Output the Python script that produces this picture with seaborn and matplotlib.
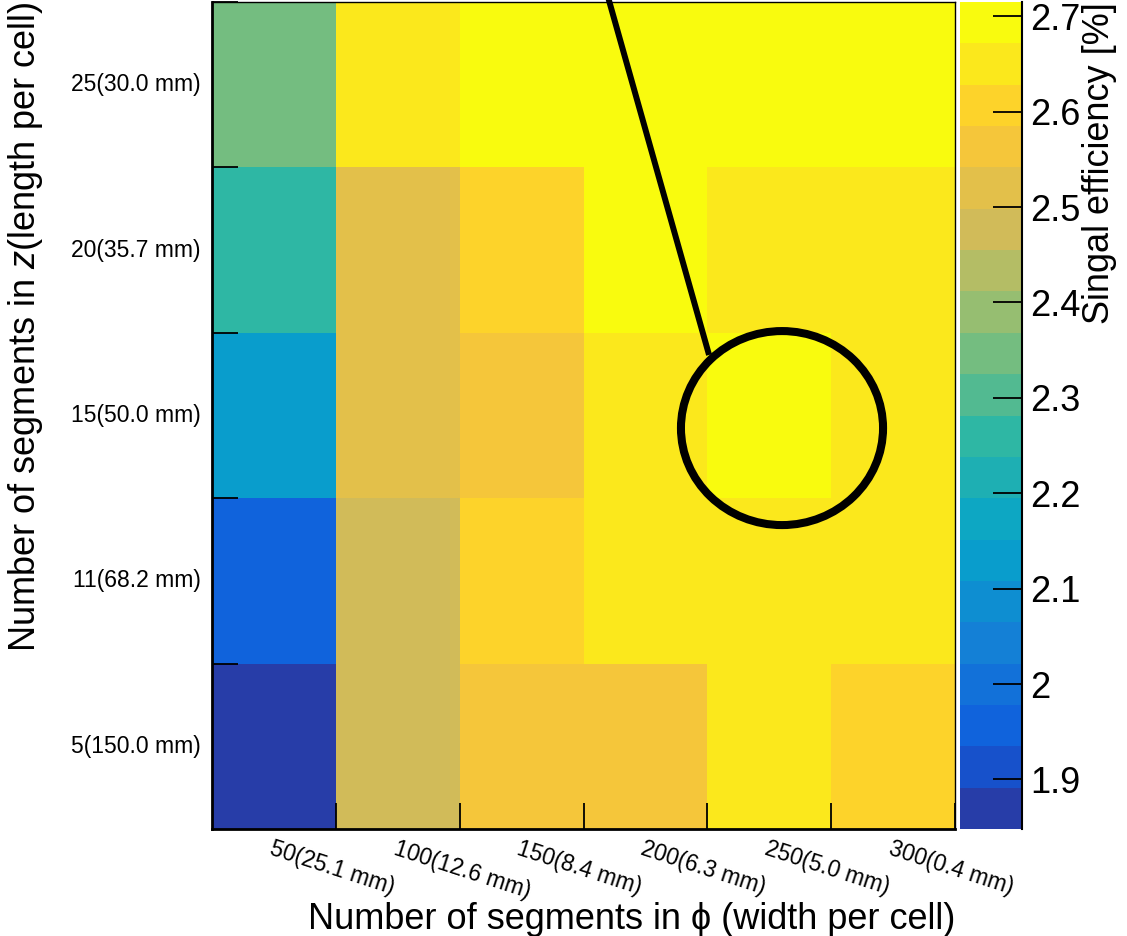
import numpy as np
import pandas as pd
import matplotlib
matplotlib.use("Agg")
import matplotlib.pyplot as plt
from matplotlib.colors import LinearSegmentedColormap, ListedColormap, BoundaryNorm
from matplotlib.patches import Ellipse
from matplotlib.ticker import FormatStrFormatter
import seaborn as sns

# ---------------- data ----------------
phi_labels = ["50(25.1 mm)", "100(12.6 mm)", "150(8.4 mm)",
              "200(6.3 mm)", "250(5.0 mm)", "300(0.4 mm)"]
z_labels = ["25(30.0 mm)", "20(35.7 mm)", "15(50.0 mm)",
            "11(68.2 mm)", "5(150.0 mm)"]

eff_z25 = [2.346, 2.650, 2.693, 2.700, 2.705, 2.698]
eff_z20 = [2.260, 2.520, 2.606, 2.690, 2.650, 2.648]
eff_z15 = [2.130, 2.515, 2.565, 2.652, 2.712, 2.655]
eff_z11 = [1.957, 2.476, 2.606, 2.646, 2.652, 2.649]
eff_z5 = [1.850, 2.478, 2.563, 2.560, 2.655, 2.608]

cbar_ticks = [1.9, 2.0, 2.1, 2.2, 2.3, 2.4, 2.5, 2.6, 2.7]
z_min, z_max = 1.848, 2.715
n_contours = 20

# ---------------- style ----------------
sns.set_style("white")
plt.rcParams['font.family'] = ['Liberation Sans', 'DejaVu Sans']
plt.rcParams['mathtext.fontset'] = 'custom'
plt.rcParams['mathtext.it'] = 'Liberation Sans:italic'
plt.rcParams['mathtext.rm'] = 'Liberation Sans'
plt.rcParams['text.color'] = 'black'
plt.rcParams['axes.labelcolor'] = 'black'
plt.rcParams['xtick.color'] = 'black'
plt.rcParams['ytick.color'] = 'black'
plt.rcParams['axes.axisbelow'] = False

# ROOT kBird palette
stops = [0.0, 0.125, 0.25, 0.375, 0.5, 0.625, 0.75, 0.875, 1.0]
red = [0.2082, 0.0592, 0.0780, 0.0232, 0.1802, 0.5301, 0.8186, 0.9956, 0.9764]
green = [0.1664, 0.3599, 0.5041, 0.6419, 0.7178, 0.7492, 0.7328, 0.7862, 0.9832]
blue = [0.5293, 0.8684, 0.8385, 0.7914, 0.6425, 0.4662, 0.3499, 0.1968, 0.0539]
bird = LinearSegmentedColormap.from_list(
    "bird", list(zip(stops, zip(red, green, blue))), N=255)
band_colors = [bird(int((i + 0.99) * 255 / n_contours)) for i in range(n_contours)]
cmap = ListedColormap(band_colors)
levels = np.linspace(z_min, z_max, n_contours + 1)
norm = BoundaryNorm(levels, n_contours)

df = pd.DataFrame([eff_z25, eff_z20, eff_z15, eff_z11, eff_z5],
                  index=z_labels, columns=phi_labels)

W, H = 1127, 936
fig = plt.figure(figsize=(W / 100, H / 100), dpi=100)
ax_l, ax_r, ax_t, ax_b = 212, 955, 2, 829
ax = fig.add_axes([ax_l / W, 1 - ax_b / H, (ax_r - ax_l) / W, (ax_b - ax_t) / H])
cax = fig.add_axes([960 / W, 1 - ax_b / H, 62 / W, (ax_b - ax_t) / H])

sns.heatmap(df, ax=ax, cbar_ax=cax, cmap=cmap, norm=norm,
            linewidths=0, antialiased=False,
            cbar_kws={"ticks": cbar_ticks})
ax.set_axisbelow(False)
cax.set_axisbelow(False)

# frame
for name, sp in ax.spines.items():
    sp.set_visible(True)
    sp.set_color("black")
    sp.set_linewidth(2.0 if name in ("left", "bottom") else 1.0)
    sp.set_zorder(6)

# tick labels at bin centres, tick marks at bin edges
ax.set_xticklabels(phi_labels, rotation=-18, ha="left", va="top",
                   rotation_mode="anchor", fontsize=16.5, color="black")
ax.set_yticklabels(z_labels, rotation=0, fontsize=16.5, color="black")
ax.tick_params(which="major", length=0)
ax.tick_params(axis="x", which="major", pad=6)
ax.tick_params(axis="y", which="major", pad=8)
ax.set_xticks(np.arange(1, len(phi_labels) + 1), minor=True)
ax.set_yticks(np.arange(0, len(z_labels)), minor=True)
ax.tick_params(which="minor", direction="in", length=19, width=1.3,
               color="black", bottom=True, left=True)

ax.set_xlabel("Number of segments in ϕ (width per cell)", fontsize=26,
              loc="right", color="black")
ax.set_ylabel("Number of segments in $z$(length per cell)", fontsize=26,
              loc="top", color="black")
ax.xaxis.set_label_coords(1.0, -0.088)
ax.yaxis.set_label_coords(-0.2248, 1.0)

# colorbar
cax.yaxis.set_major_formatter(FormatStrFormatter("%g"))
cax.tick_params(which="major", direction="in", length=21, width=1.3,
                labelsize=26, pad=6, right=True, left=False, color="black",
                labelcolor="black")
cax.minorticks_off()
cax.spines["right"].set_visible(True)
cax.spines["right"].set_color("black")
cax.spines["right"].set_linewidth(1.5)
cax.set_ylabel("Singal efficiency [%]", fontsize=26, loc="top", color="black")
cax.yaxis.set_label_position("right")
cax.yaxis.set_label_coords(1.97, 1.0)

# highlight annotation
ell = Ellipse((4.603, 2.576), width=1.632, height=1.173, fill=False,
              edgecolor="black", linewidth=5.8, zorder=5)
ax.add_patch(ell)
ax.plot([3.198, 4.014], [-0.03, 2.134], color="black", linewidth=4.3,
        solid_capstyle="butt", clip_on=False, zorder=5)

fig.savefig("out.png", dpi=100)
